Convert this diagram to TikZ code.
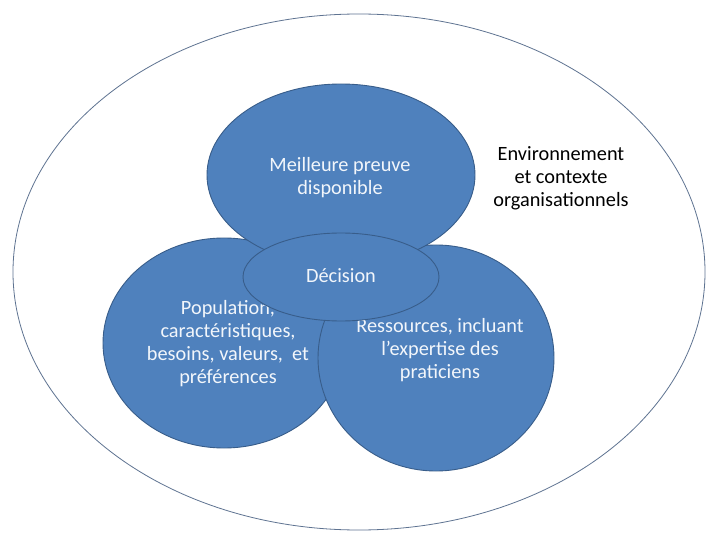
\documentclass[tikz,border=0pt]{standalone}
\usepackage{fontspec}
\setmainfont{Carlito}
\usetikzlibrary{shapes.geometric}
\definecolor{blobfill}{HTML}{4F81BD}
\definecolor{blobline}{HTML}{385D8A}
\definecolor{outerline}{HTML}{5E7391}
\definecolor{lighttext}{HTML}{F2F6FB}
\tikzset{
  blob/.style={ellipse, draw=blobline, fill=blobfill, line width=0.9pt, inner sep=0pt},
  bloblabel/.style={text=lighttext, align=center, font=\fontsize{20.3}{23}\selectfont, inner sep=0pt},
  plainlabel/.style={text=black, align=center, font=\fontsize{20.3}{23}\selectfont, inner sep=0pt},
}
\begin{document}
\begin{tikzpicture}[x=1pt, y=-1pt]
\useasboundingbox (0,0) rectangle (707,540);
\fill[white] (0,0) rectangle (707,540);
% outer environment ellipse
\node[ellipse, draw=outerline, line width=0.8pt, minimum width=692pt, minimum height=516pt, inner sep=0pt] (env) at (359,272) {};
% left circle
\node[blob, minimum width=242pt, minimum height=210pt] (pop) at (224,343) {};
\node[bloblabel] (poplabel) at (228,344) {Population,\\caractéristiques,\\besoins, valeurs,~ et\\préférences};
% right circle
\node[blob, minimum width=236pt, minimum height=226pt] (res) at (436,358) {};
\node[bloblabel] (reslabel) at (440,350) {Ressources, incluant\\l’expertise des\\praticiens};
% top circle
\node[blob, minimum width=268pt, minimum height=182pt] (best) at (341,175) {};
\node[bloblabel] (bestlabel) at (340,178) {Meilleure preuve\\disponible};
% decision ellipse
\node[blob, minimum width=196pt, minimum height=88pt] (dec) at (341,277) {};
\node[bloblabel] (declabel) at (341,276) {Décision};
% environment label
\node[plainlabel] (envlabel) at (561,178) {Environnement\\et contexte\\organisationnels};
\end{tikzpicture}
\end{document}
